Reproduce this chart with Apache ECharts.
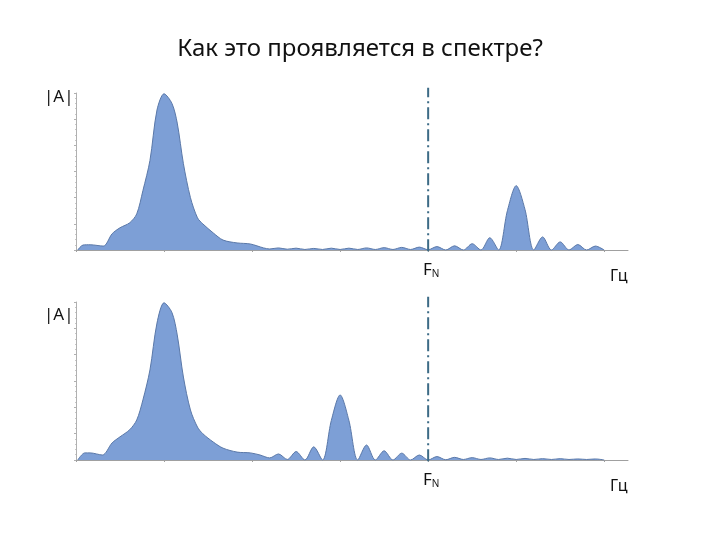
<!DOCTYPE html>
<html>
<head>
<meta charset="utf-8">
<script src="https://cdn.jsdelivr.net/npm/echarts@6/dist/echarts.min.js"></script>
<style>html,body{margin:0;padding:0;background:#fff}#c{width:720px;height:540px}</style>
</head>
<body>
<div id="c"></div>
<script>
// Frequency axis: 1 unit = one tick spacing; F_N at 4
const nyquist = 4;
const xTicks = [0, 1, 2, 3, 4, 5, 6];

const topFreq = [0.02,0.08,0.16,0.31,0.41,0.5,0.61,0.69,0.76,0.84,0.92,1.0,1.09,1.15,1.22,1.3,1.38,1.44,1.56,1.67,1.83,1.98,2.13,
  2.2,2.3,2.4,2.5,2.6,2.7,2.8,2.9,3.0,3.1,3.2,3.3,3.4,3.5,3.6,3.7,3.8,3.9,4.0,4.1,4.2,4.3,4.4,4.5,4.6,4.7,4.8,4.9,5.0,5.1,5.2,5.3,5.4,5.5,5.6,5.7,5.8,5.9,6.0];
const topAmp = [0,0.19,0.2,0.15,0.62,0.85,1.04,1.38,2.27,3.42,5.35,5.97,5.6,4.85,3.3,2.0,1.23,1.0,0.65,0.38,0.27,0.23,0.08,
  0.04,0.08,0.03,0.07,0.02,0.06,0.02,0.07,0.02,0.07,0.02,0.08,0.02,0.09,0.02,0.1,0.02,0.11,0.01,0.13,0,0.16,0,0.24,0,0.47,0,1.5,2.46,1.55,0,0.5,0,0.31,0,0.21,0,0.15,0];

const bottomFreq = [0.02,0.1,0.16,0.3,0.41,0.5,0.61,0.69,0.76,0.84,0.92,1.0,1.09,1.15,1.22,1.3,1.38,1.44,1.56,1.67,1.83,1.98,2.09,
  2.2,2.3,2.4,2.5,2.6,2.7,2.8,2.9,3.0,3.1,3.2,3.3,3.4,3.5,3.6,3.7,3.8,3.9,4.0,4.1,4.2,4.3,4.4,4.5,4.6,4.7,4.8,4.9,5.0,5.1,5.2,5.3,5.4,5.5,5.6,5.7,5.8,5.9,6.0];
const bottomAmp = [0,0.27,0.27,0.19,0.65,0.88,1.15,1.52,2.28,3.42,5.2,5.97,5.6,4.75,3.15,1.9,1.25,1.0,0.68,0.45,0.3,0.27,0.19,
  0.08,0.23,0.02,0.32,0,0.5,0,1.5,2.47,1.5,0,0.57,0,0.35,0,0.26,0,0.19,0,0.13,0.01,0.1,0.02,0.09,0.02,0.08,0.02,0.07,0.02,0.06,0.02,0.05,0.02,0.05,0.02,0.04,0.02,0.04,0];

const titleText = 'Как это проявляется в спектре?';
const yLabel = '|A|';
const xUnit = 'Гц';

function pairs(xs, ys) { return xs.map((x, i) => [x, ys[i]]); }

const fillColor = '#7d9fd6';
const edgeColor = '#5a78a8';
const markColor = '#3d6b86';

function xAxisCfg(gi) {
  return {
    gridIndex: gi, type: 'value', min: 0, max: 6.27, interval: 1,
    axisLine: { lineStyle: { color: '#a0a0a0', width: 1 } },
    axisTick: { show: true, length: 2, lineStyle: { color: '#a0a0a0' }, customValues: xTicks },
    axisLabel: { show: false },
    splitLine: { show: false }
  };
}
function yAxisCfg(gi) {
  return {
    gridIndex: gi, type: 'value', min: 0, max: 6, interval: 1,
    axisLine: { show: true, lineStyle: { color: '#b0b0b0', width: 1 } },
    axisTick: { show: true, length: 2, lineStyle: { color: '#b0b0b0' } },
    minorTick: { show: true, splitNumber: 5, length: 1, lineStyle: { color: '#c8c8c8' } },
    axisLabel: { show: false },
    splitLine: { show: false }
  };
}
function spectrum(gi, data) {
  return {
    type: 'line', xAxisIndex: gi, yAxisIndex: gi, data: data,
    smooth: 0.3, symbol: 'none',
    lineStyle: { color: edgeColor, width: 1 },
    areaStyle: { color: fillColor, opacity: 1 },
    z: 2
  };
}
function nyqLine(gi) {
  return {
    type: 'line', xAxisIndex: gi, yAxisIndex: gi, data: [[nyquist, -0.05], [nyquist, 6.2]],
    symbol: 'none', clip: false, silent: true,
    lineStyle: { color: markColor, width: 2, type: [12, 4, 2, 4] },
    z: 3
  };
}
function fn(top) {
  return { type: 'text', left: 423, top: top, style: { rich: { a: { font: '17px "Noto Sans"', fill: '#111' }, b: { font: '10px "Noto Sans"', fill: '#111', padding: [8, 0, 0, 0] } }, text: '{a|F}{b|N}' } };
}

const chart = echarts.init(document.getElementById('c'), null, { renderer: 'canvas' });
chart.setOption({
  animation: false,
  backgroundColor: '#ffffff',
  grid: [
    { left: 76, width: 552, top: 93, height: 157 },
    { left: 76, width: 552, top: 302, height: 158 }
  ],
  xAxis: [xAxisCfg(0), xAxisCfg(1)],
  yAxis: [yAxisCfg(0), yAxisCfg(1)],
  series: [
    spectrum(0, pairs(topFreq, topAmp)),
    spectrum(1, pairs(bottomFreq, bottomAmp)),
    nyqLine(0),
    nyqLine(1)
  ],
  graphic: [
    { type: 'text', left: 'center', top: 37, style: { text: titleText, font: '24px "Noto Sans"', fill: '#111' } },
    { type: 'text', left: 44, top: 89, style: { text: yLabel, font: '17px "Noto Sans"', fill: '#111' } },
    { type: 'text', left: 44, top: 307, style: { text: yLabel, font: '17px "Noto Sans"', fill: '#111' } },
    fn(262),
    fn(472),
    { type: 'text', left: 610, top: 268, style: { text: xUnit, font: '16px "Noto Sans"', fill: '#111' } },
    { type: 'text', left: 610, top: 478, style: { text: xUnit, font: '16px "Noto Sans"', fill: '#111' } }
  ]
});
</script>
</body>
</html>
